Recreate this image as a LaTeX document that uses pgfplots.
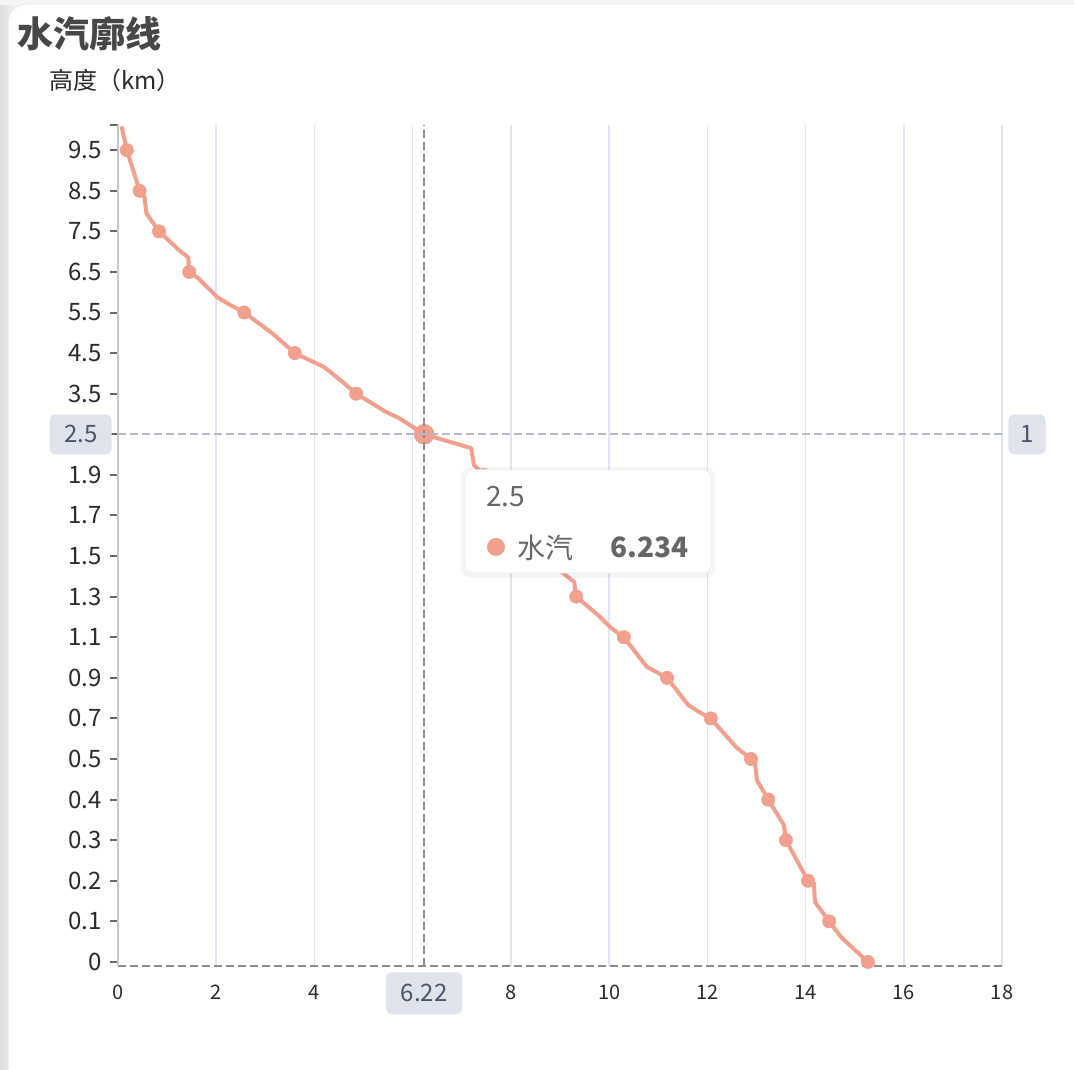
\documentclass[border=0pt]{standalone}
\usepackage{fontspec}
\setmainfont{Noto Sans CJK SC}
\usepackage{pgfplots}
\pgfplotsset{compat=1.18}

\definecolor{vap}{HTML}{F0A08D}
\definecolor{gridc}{HTML}{E0E6F1}
\definecolor{ptrbg}{HTML}{DFE4EC}
\definecolor{ptrtx}{HTML}{4A5568}
\definecolor{labc}{HTML}{2B2B2B}
\definecolor{tipc}{HTML}{666666}
\definecolor{ptrv}{HTML}{8C8C8C}
\definecolor{ptrh}{HTML}{B5BAC8}

% water vapour profile: x = value, u = category index
\pgfplotstableread{
x u
0.08 20.55
0.18 20
0.44 19
0.54 18.84
0.58 18.44
0.835 18
1.24 17.54
1.43 17.36
1.45 17
1.63 16.85
2.02 16.38
2.22 16.23
2.57 16
3.14 15.49
3.60 15
4.19 14.66
4.40 14.46
4.60 14.26
4.85 14
5.46 13.55
5.72 13.40
6.234 13
7.19 12.66
7.25 12.24
7.45 12
8.19 11
8.82 10
9.06 9.58
9.29 9.36
9.33 9
9.77 8.55
10.04 8.23
10.30 8
10.77 7.27
11.18 7
11.61 6.33
11.83 6.16
12.07 6
12.58 5.30
12.89 5
12.97 4.93
13.01 4.48
13.24 4
13.56 3.37
13.60 3
14.05 2
14.17 1.95
14.19 1.48
14.48 1
14.74 0.59
15.27 0
}\vapline

\pgfplotstableread{
x u
15.27 0
14.48 1
14.05 2
13.60 3
13.24 4
12.89 5
12.07 6
11.18 7
10.30 8
9.33 9
8.82 10
8.19 11
7.45 12
6.234 13
4.85 14
3.60 15
2.57 16
1.45 17
0.835 18
0.44 19
0.18 20
}\vapmarks

\begin{document}
\begin{tikzpicture}
\useasboundingbox (0,0) rectangle (805.5pt,802.5pt);
\fill[white] (0,0) rectangle (805.5pt,802.5pt);
\shade[left color=black!13, right color=white] (0,0) rectangle (18pt,802.5pt);
\fill[black!4] (0,799pt) rectangle (805.5pt,802.5pt);
\filldraw[fill=white, draw=black!8, line width=0.75pt, rounded corners=14pt]
  (6pt,-20pt) rectangle (820pt,799.5pt);

\begin{axis}[
  at={(88.5pt,78pt)}, anchor=south west,
  scale only axis, width=663pt, height=630.75pt,
  xmin=0, xmax=18, ymin=-0.1, ymax=20.62,
  clip=false,
  axis x line*=bottom, axis y line*=left,
  x axis line style={draw=black!45, dash pattern=on 6pt off 3pt, line width=1.3pt, -},
  y axis line style={draw=black!22, line width=1.5pt, -},
  xtick={0,2,4,6,8,10,12,14,16,18},
  % the labels under the axis-pointer boxes are hidden, as in the source
  xticklabels={0,2,4,{},8,10,12,14,16,18},
  xmajorgrids, major grid style={gridc, line width=1.2pt},
  ytick={0,1,2,3,4,5,6,7,8,9,10,11,12,13,14,15,16,17,18,19,20,20.62},
  yticklabels={0,0.1,0.2,0.3,0.4,0.5,0.7,0.9,1.1,1.3,1.5,1.7,1.9,{},3.5,4.5,5.5,6.5,7.5,8.5,9.5,{}},
  tick align=outside, major tick length=6pt,
  xtick style={draw=none},
  ytick style={draw=black!60, line width=1.5pt},
  yticklabel style={font=\fontsize{18}{18}\selectfont, text=labc, inner xsep=0pt, xshift=-6pt},
  xticklabel style={font=\fontsize{15}{15}\selectfont, text=labc, inner ysep=0pt, yshift=-8pt},
]
\addplot[vap, line width=3pt, line join=round, line cap=round] table[x=x, y=u] {\vapline};
\addplot[only marks, mark=*, mark size=5pt, mark options={fill=vap, draw=vap}] table[x=x, y=u] {\vapmarks};
\addplot[only marks, mark=*, mark size=7.5pt, mark options={fill=vap, draw=vap}] coordinates {(6.234,13)};
\coordinate (cB) at (axis cs:6.234,-0.1);
\coordinate (cT) at (axis cs:6.234,20.62);
\coordinate (hL) at (axis cs:0,13);
\coordinate (hR) at (axis cs:18,13);
\end{axis}

% axis pointer
\draw[ptrv, line width=1.3pt, dash pattern=on 6pt off 3pt] (cB) -- (cT);
\draw[ptrh, line width=1.3pt, dash pattern=on 6pt off 3pt] (hL) -- (hR);
\tikzset{ptrlab/.style={fill=ptrbg, text=ptrtx, rounded corners=4pt, inner sep=0pt,
  minimum height=30pt, font=\fontsize{18}{18}\selectfont}}
\node[ptrlab, anchor=east, minimum width=46.5pt, xshift=-4.5pt] at (hL) {2.5};
\node[ptrlab, anchor=west, minimum width=28pt, xshift=4.5pt] at (hR) {1};
\node[ptrlab, anchor=north, minimum width=57pt, minimum height=31.5pt, yshift=-4.5pt] at (cB) {6.22};

\begin{scope}[x=0.75pt, y=-0.75pt, yshift=802.5pt]
  % title and axis name
  \node[anchor=west, inner sep=0pt, text=black!72, font=\bfseries\fontsize{27}{27}\selectfont] at (17,34) {水汽廓线};
  \node[anchor=west, inner sep=0pt, text=labc, font=\fontsize{18}{18}\selectfont] at (49,80) {高度（km）};
  % tooltip
  \fill[black, opacity=0.04, rounded corners=7pt] (461,467) rectangle (715,578);
  \filldraw[fill=white, draw=black!5, line width=0.75pt, rounded corners=6pt] (465,470) rectangle (711,573);
  \node[anchor=west, inner sep=0pt, text=tipc, font=\fontsize{21}{21}\selectfont] at (486,497) {2.5};
  \fill[vap] (496,547) circle[radius=6.75pt];
  \node[anchor=west, inner sep=0pt, text=tipc, font=\fontsize{21}{21}\selectfont] at (517,548) {水汽};
  \node[anchor=east, inner sep=0pt, text=tipc, font=\bfseries\fontsize{21}{21}\selectfont] at (689,547) {6.234};
\end{scope}
\end{tikzpicture}
\end{document}
